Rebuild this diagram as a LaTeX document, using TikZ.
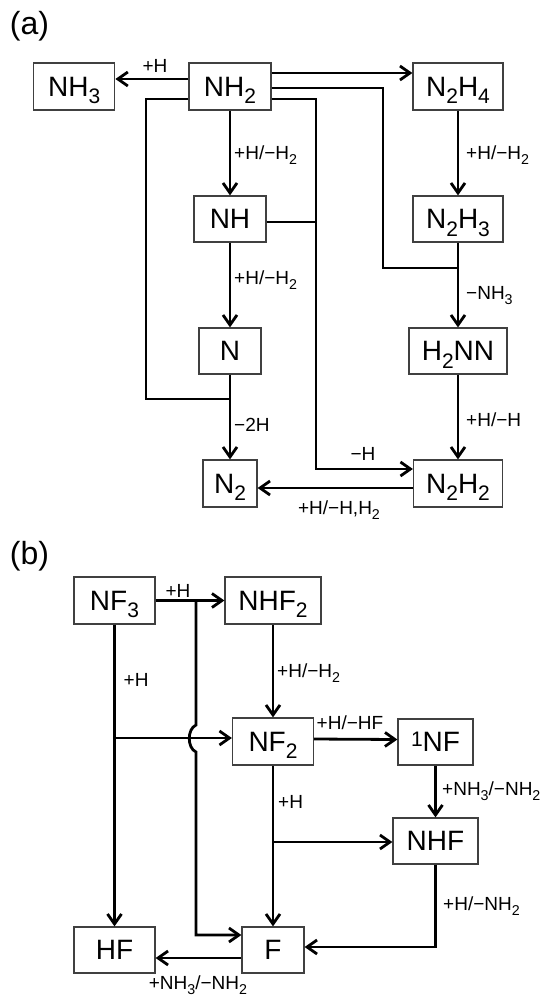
\documentclass[tikz,border=0pt]{standalone}
\usepackage{fontspec}
\setmainfont{Liberation Sans}
\usetikzlibrary{arrows.meta}
\newcommand\lo[1]{\raisebox{-0.27em}[0pt][0pt]{\scalebox{0.75}{#1}}}
\newcommand\hi[1]{\raisebox{0.2em}[0pt][0pt]{\scalebox{0.75}{#1}}}
\begin{document}
\begin{tikzpicture}[x=1pt,y=-1pt,
 bx/.style={draw=black!75, line width=1.2pt, fill=white, inner sep=0pt, minimum height=47pt, font=\fontsize{28}{30}\selectfont, text depth=0pt},
 lbl/.style={inner sep=0pt, font=\fontsize{19}{22}\selectfont},
 ln/.style={line width=2.8pt},
 arr/.style={ln, -{Straight Barb[length=10pt,width=14pt]}},
 pl/.style={font=\fontsize{32}{35}\selectfont, inner sep=0pt}]
\useasboundingbox (0,0) rectangle (541,996);
% ---------- (a) ----------
\node[pl] (pa) at (29.5,26) {(a)};
\node[bx, minimum width=81pt] (NH3) at (74.3,86.5) {NH\lo{3}};
\node[bx, minimum width=82pt] (NH2) at (230,86.5) {NH\lo{2}};
\node[bx, minimum width=90pt] (N2H4) at (458,86.5) {N\lo{2}H\lo{4}};
\node[bx, minimum width=72pt, minimum height=46pt] (NH) at (230,219) {NH};
\node[bx, minimum width=90pt, minimum height=46pt] (N2H3) at (458,219) {N\lo{2}H\lo{3}};
\node[bx, minimum width=62pt, minimum height=46pt] (N) at (230,351) {N};
\node[bx, minimum width=98pt, minimum height=46pt] (H2NN) at (458,351) {H\lo{2}NN};
\node[bx, minimum width=54pt] (N2) at (230,483.5) {N\lo{2}};
\node[bx, minimum width=89pt] (N2H2) at (458,483.5) {N\lo{2}H\lo{2}};

\draw[arr] ([yshift=7.5pt]NH2.west) -- ([yshift=7.5pt]NH3.east);
\draw[arr] ([yshift=13.5pt]NH2.east) -- ([yshift=13.5pt]N2H4.west);
\draw[arr] (NH2.south) -- (NH.north);
\draw[arr] (NH.south) -- (N.north);
\draw[arr] (N.south) -- (N2.north);
\draw[arr] (N2H4.south) -- (N2H3.north);
\draw[arr] (N2H3.south) -- (H2NN.north);
\draw[arr] (H2NN.south) -- (N2H2.north);
\draw[arr] ([yshift=-4.5pt]N2H2.west) -- ([yshift=-4.5pt]N2.east);
\coordinate (ja) at (458,268);
\draw[ln] ([yshift=-1.5pt]NH2.east) -| (383,268) -- (ja);
\draw[arr] ([yshift=-12.5pt]NH2.east) -| (316,469) -- ([yshift=14.5pt]N2H2.west);
\coordinate (jb) at (316,222);
\draw[ln] ([yshift=-3pt]NH.east) -- (jb);
\coordinate (jc) at (230,399);
\draw[ln] ([yshift=-12.5pt]NH2.west) -| (146,399) -- (jc);

\node[lbl, anchor=base] (l1) at (155,72) {+H};
\node[lbl, anchor=base west] (l2) at (234,159) {+H/−H\lo{2}};
\node[lbl, anchor=base west] (l3) at (466,159) {+H/−H\lo{2}};
\node[lbl, anchor=base west] (l4) at (234,284) {+H/−H\lo{2}};
\node[lbl, anchor=base west] (l5) at (466,299) {−NH\lo{3}};
\node[lbl, anchor=base west] (l6) at (234,431) {−2H};
\node[lbl, anchor=base west] (l7) at (466,426) {+H/−H};
\node[lbl, anchor=base] (l8) at (363,460) {−H};
\node[lbl, anchor=base] (l9) at (339,514) {+H/−H,H\lo{2}};

% ---------- (b) ----------
\node[pl] (pb) at (29.5,556) {(b)};
\node[bx, minimum width=81pt] (NF3) at (114.5,600.5) {NF\lo{3}};
\node[bx, minimum width=96pt] (NHF2) at (273,600.5) {NHF\lo{2}};
\node[bx, minimum width=81pt] (NF2) at (273,741.5) {NF\lo{2}};
\node[bx, minimum width=75pt, minimum height=46pt] (NF1) at (435.5,742) {\hi{1}NF};
\node[bx, minimum width=85pt, minimum height=46pt] (NHF) at (435.5,841) {NHF};
\node[bx, minimum width=81pt, minimum height=46pt] (HF) at (114.5,950) {HF};
\node[bx, minimum width=62pt, minimum height=46pt] (F) at (273,950) {F};

\draw[arr] (NF3.east) -- (NHF2.west);
\coordinate (b1) at (196,600.5);
\draw[arr] (b1) -- (196,725) .. controls (187,729) and (187,748) .. (196,752) -- (196,935) -- ([yshift=15pt]F.west);
\draw[arr] (NF3.south) -- (HF.north);
\coordinate (b2) at (114.5,738);
\draw[arr] (b2) -- ([yshift=3.5pt]NF2.west);
\draw[arr] (NHF2.south) -- (NF2.north);
\draw[arr] ([yshift=2.5pt]NF2.east) -- ([yshift=2.5pt]NF1.west);
\draw[arr] (NF1.south) -- (NHF.north);
\draw[arr] (NF2.south) -- (F.north);
\coordinate (b3) at (273,842);
\draw[arr] (b3) -- (NHF.west |- b3);
\draw[arr] (NHF.south) |- ([yshift=3pt]F.east);
\draw[arr] ([yshift=-8pt]F.west) -- ([yshift=-8pt]HF.east);

\node[lbl, anchor=base] (m1) at (178,597) {+H};
\node[lbl, anchor=base west] (m2) at (123.5,686) {+H};
\node[lbl, anchor=base west] (m3) at (277,677) {+H/−H\lo{2}};
\node[lbl, anchor=base] (m4) at (350,729) {+H/−HF};
\node[lbl, anchor=base west] (m5) at (442,795) {+NH\lo{3}/−NH\lo{2}};
\node[lbl, anchor=base west] (m6) at (278,808) {+H};
\node[lbl, anchor=base west] (m7) at (443,910) {+H/−NH\lo{2}};
\node[lbl, anchor=base] (m8) at (198,989) {+NH\lo{3}/−NH\lo{2}};
\end{tikzpicture}
\end{document}
